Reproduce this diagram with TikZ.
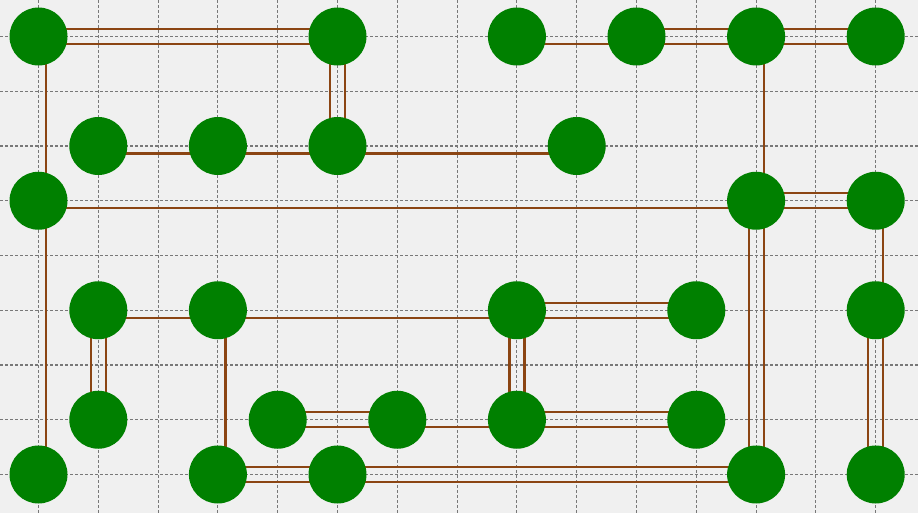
\documentclass[tikz,border=0pt]{standalone}
\definecolor{bgc}{RGB}{240,240,240}
\definecolor{gridc}{RGB}{120,120,120}
\definecolor{brid}{RGB}{139,69,19}
\definecolor{isl}{RGB}{0,128,0}
\pgfdeclarelayer{bg}
\pgfsetlayers{bg,main}
\newcommand\brH[2]{\draw[bridge] ([yshift=-7.5pt]#1.center) -- ([yshift=-7.5pt]#2.center);}
\newcommand\brHH[2]{\draw[bridge] ([yshift=7.5pt]#1.center) -- ([yshift=7.5pt]#2.center) ([yshift=-7.5pt]#1.center) -- ([yshift=-7.5pt]#2.center);}
\newcommand\brV[2]{\draw[bridge] ([xshift=7.5pt]#1.center) -- ([xshift=7.5pt]#2.center);}
\newcommand\brVV[2]{\draw[bridge] ([xshift=7.5pt]#1.center) -- ([xshift=7.5pt]#2.center) ([xshift=-7.5pt]#1.center) -- ([xshift=-7.5pt]#2.center);}
\begin{document}
\begin{tikzpicture}[x=1pt,y=-1pt,
  island/.style={circle,fill=isl,minimum size=58pt,inner sep=0pt},
  bridge/.style={draw=brid,line width=2.2pt},
  gridline/.style={draw=gridc,line width=1.1pt,dash pattern=on 3pt off 2pt}]
\useasboundingbox (0,0) rectangle (918,513);
\foreach \c/\r in {0/0,5/0,8/0,10/0,12/0,14/0,1/2,3/2,5/2,9/2,0/3,12/3,14/3,1/5,3/5,8/5,11/5,14/5,1/7,4/7,6/7,8/7,11/7,0/8,3/8,5/8,12/8,14/8}
  \node[island] (n\c-\r) at ({38.5+59.8*\c},{36.5+54.75*\r}) {};
\begin{pgfonlayer}{bg}
\fill[bgc] (0,0) rectangle (918,513);
\foreach \i in {0,...,14} \draw[gridline] ({38.5+59.8*\i},0) -- ({38.5+59.8*\i},513);
\foreach \j in {0,...,8} \draw[gridline] (0,{36.5+54.75*\j}) -- (918,{36.5+54.75*\j});
% double horizontal
\brHH{n0-0}{n5-0}
\brHH{n10-0}{n12-0}
\brHH{n12-0}{n14-0}
\brHH{n12-3}{n14-3}
\brHH{n8-5}{n11-5}
\brHH{n4-7}{n6-7}
\brHH{n8-7}{n11-7}
\brHH{n3-8}{n5-8}
\brHH{n5-8}{n12-8}
% single horizontal
\brH{n8-0}{n10-0}
\brH{n1-2}{n3-2}
\brH{n3-2}{n5-2}
\brH{n5-2}{n9-2}
\brH{n0-3}{n12-3}
\brH{n1-5}{n3-5}
\brH{n3-5}{n8-5}
\brH{n6-7}{n8-7}
% double vertical
\brVV{n5-0}{n5-2}
\brVV{n12-3}{n12-8}
\brVV{n14-5}{n14-8}
\brVV{n1-5}{n1-7}
\brVV{n8-5}{n8-7}
% single vertical
\brV{n0-0}{n0-3}
\brV{n0-3}{n0-8}
\brV{n12-0}{n12-3}
\brV{n14-3}{n14-5}
\brV{n3-5}{n3-8}
\end{pgfonlayer}
\end{tikzpicture}
\end{document}
